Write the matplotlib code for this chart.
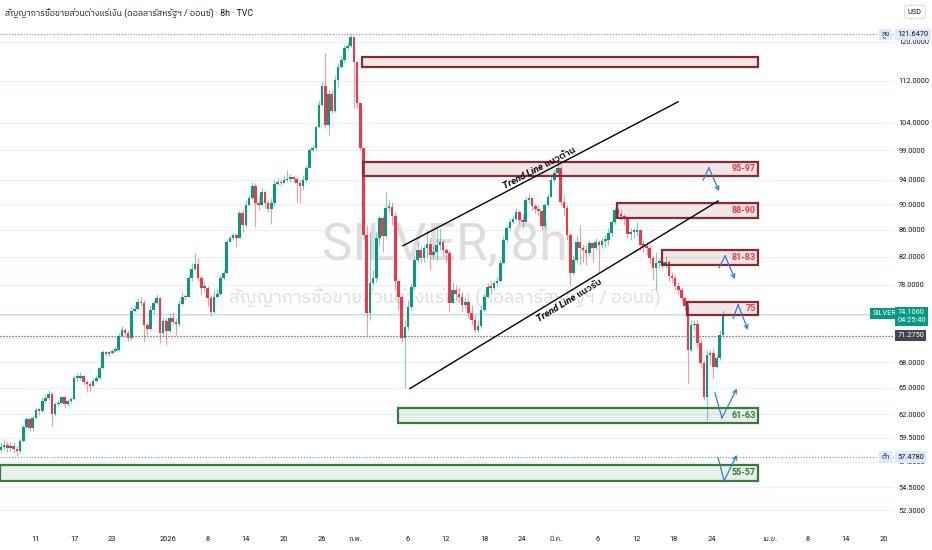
import numpy as np
import matplotlib
matplotlib.use("Agg")
import matplotlib.pyplot as plt
from matplotlib import font_manager, ft2font
from matplotlib.patches import Rectangle
from matplotlib.ticker import NullLocator, NullFormatter

# ---- values (TVC silver, 8h candles) ----
first_open = 58.2
closes = [
    58.5, 58.7, 58.4, 58.6, 58.3, 58.1, 59.1, 60.6, 61.5, 60.5,
    61.6, 62.5, 62.4, 63.5, 63.8, 64.3, 62.0, 63.1, 63.3, 63.9,
    63.1, 63.5, 63.7, 66.1, 66.1, 66.4, 65.7, 65.4, 65.2, 65.8,
    66.1, 67.3, 69.2, 69.0, 69.1, 69.4, 69.5, 71.2, 72.0, 71.6,
    71.0, 74.5, 74.7, 75.6, 75.5, 72.6, 72.1, 74.6, 75.5, 76.2,
    71.6, 73.1, 71.9, 73.5, 73.0, 72.8, 75.4, 76.4, 76.3, 78.9,
    80.2, 81.0, 79.0, 77.6, 77.6, 76.2, 74.3, 76.4, 76.8, 79.0,
    79.7, 84.2, 84.8, 85.2, 84.8, 88.6, 86.8, 89.9, 91.0, 92.9,
    90.1, 89.9, 92.0, 90.2, 89.2, 90.2, 93.3, 93.6, 93.4, 93.9,
    94.1, 94.2, 94.1, 93.4, 92.9, 93.9, 95.9, 99.1, 99.4, 103.2,
    107.3, 111.0, 103.5, 109.4, 106.1, 112.2, 114.8, 116.2, 118.7, 119.1,
    121.0, 115.8, 107.7, 99.4, 85.2, 74.2, 78.3, 79.0, 84.8, 87.8,
    85.1, 89.4, 89.6, 88.1, 78.6, 76.3, 71.0, 72.4, 75.0, 77.7,
    81.5, 83.0, 81.8, 83.3, 83.9, 82.3, 82.7, 83.7, 84.2, 83.0,
    82.5, 75.5, 77.3, 76.8, 76.4, 75.3, 75.6, 74.2, 73.3, 72.0,
    72.5, 74.6, 76.3, 77.7, 77.6, 78.3, 78.6, 81.1, 84.5, 86.3,
    87.2, 87.7, 88.8, 87.5, 87.2, 90.7, 91.0, 89.7, 89.2, 88.9,
    86.6, 89.9, 91.2, 93.9, 95.1, 95.9, 90.4, 89.4, 85.2, 79.7,
    81.5, 84.2, 83.3, 83.0, 82.5, 84.0, 83.3, 84.2, 83.7, 84.3,
    84.5, 85.5, 87.2, 89.1, 88.5, 88.1, 87.7, 85.4, 85.7, 85.7,
    86.0, 83.7, 83.6, 83.3, 81.8, 80.4, 81.1, 81.2, 80.9, 81.2,
    79.2, 79.0, 77.9, 77.3, 76.2, 75.1, 69.5, 72.6, 72.8, 70.4,
    67.9, 63.9, 68.9, 69.1, 67.4, 68.5, 71.4, 74.1,
]
highs = [
    59.0, 59.3, 59.1, 59.0, 58.9, 58.6, 59.3, 60.8, 61.7, 61.6,
    61.9, 62.8, 62.7, 63.9, 64.3, 64.7, 64.5, 63.4, 63.6, 64.1,
    64.0, 63.7, 63.9, 66.5, 66.7, 66.8, 66.5, 65.9, 65.7, 66.1,
    66.5, 67.6, 69.5, 69.4, 69.4, 69.6, 69.9, 71.6, 72.5, 72.3,
    72.0, 75.0, 75.3, 76.2, 76.3, 75.9, 73.0, 75.3, 75.9, 76.8,
    76.4, 73.7, 73.5, 74.1, 74.3, 73.5, 75.9, 77.0, 76.7, 79.4,
    81.1, 82.5, 81.8, 79.4, 78.4, 77.9, 76.6, 77.3, 77.4, 79.4,
    80.1, 84.6, 85.2, 85.7, 85.5, 89.1, 89.1, 90.7, 91.5, 93.6,
    93.4, 91.3, 92.6, 92.3, 90.7, 91.0, 93.9, 94.2, 94.1, 94.6,
    95.6, 94.9, 94.6, 94.2, 93.9, 94.7, 96.4, 99.4, 99.9, 103.5,
    108.3, 111.8, 117.7, 110.2, 110.2, 113.0, 115.6, 117.0, 119.3, 119.9,
    121.6, 121.0, 115.8, 107.7, 99.4, 86.8, 85.7, 80.1, 85.7, 88.3,
    88.2, 92.0, 90.7, 90.4, 88.8, 78.4, 76.6, 73.3, 75.9, 78.3,
    82.3, 84.2, 83.6, 83.7, 86.0, 84.8, 83.7, 86.4, 86.3, 84.5,
    83.3, 83.0, 78.4, 78.0, 77.7, 77.0, 76.3, 75.9, 75.3, 73.9,
    73.3, 75.3, 76.8, 78.3, 78.7, 78.7, 79.1, 81.5, 85.1, 86.8,
    87.8, 88.3, 89.4, 89.1, 88.5, 91.2, 91.6, 90.9, 90.1, 89.9,
    89.1, 90.2, 91.6, 94.6, 95.6, 96.8, 96.4, 91.5, 89.9, 85.5,
    82.3, 85.2, 86.8, 83.9, 83.7, 84.5, 84.0, 84.8, 84.5, 84.9,
    85.2, 86.3, 87.5, 89.6, 89.4, 89.1, 88.5, 87.8, 86.3, 86.3,
    87.2, 86.0, 84.5, 84.2, 83.7, 82.3, 82.7, 81.8, 81.8, 82.1,
    81.5, 79.8, 79.4, 78.4, 77.6, 76.3, 75.9, 73.3, 73.3, 73.3,
    70.7, 68.3, 69.5, 69.5, 69.7, 69.0, 72.0, 74.6,
]
lows = [
    58.0, 58.2, 58.0, 58.1, 57.9, 57.6, 57.9, 59.0, 60.5, 60.2,
    60.2, 61.5, 61.9, 62.3, 63.3, 63.6, 60.7, 61.8, 62.9, 63.1,
    62.7, 62.9, 63.3, 63.6, 65.8, 65.9, 65.3, 64.5, 64.6, 65.2,
    65.7, 66.0, 67.2, 68.8, 68.8, 69.0, 69.2, 69.4, 71.1, 71.2,
    70.6, 70.7, 74.3, 74.6, 75.1, 70.5, 71.4, 71.9, 74.1, 75.4,
    70.4, 71.4, 70.1, 71.8, 72.7, 71.4, 72.5, 75.3, 75.9, 76.4,
    78.6, 80.1, 78.6, 76.6, 77.0, 75.1, 73.8, 74.2, 76.3, 76.6,
    78.7, 80.2, 84.1, 84.5, 83.4, 84.8, 85.7, 86.4, 89.7, 90.9,
    86.4, 89.1, 89.7, 89.4, 88.8, 86.9, 89.9, 93.1, 93.1, 93.4,
    93.6, 93.6, 93.6, 90.4, 90.2, 92.3, 93.6, 95.9, 98.7, 99.1,
    103.0, 107.1, 103.0, 101.7, 105.8, 105.9, 110.6, 114.6, 115.8, 118.3,
    118.9, 106.7, 106.7, 99.1, 84.5, 71.4, 73.3, 78.0, 78.4, 83.7,
    82.7, 84.8, 88.8, 86.8, 77.3, 74.6, 70.5, 65.0, 72.0, 74.6,
    77.3, 81.2, 81.2, 81.2, 81.8, 80.1, 81.8, 81.5, 83.0, 82.1,
    81.2, 74.3, 75.9, 75.9, 75.6, 74.3, 74.8, 73.5, 72.6, 71.8,
    71.8, 72.3, 74.3, 76.2, 76.8, 77.3, 77.9, 78.4, 80.9, 84.2,
    86.0, 86.9, 87.5, 86.9, 86.3, 87.2, 90.1, 89.1, 88.6, 88.1,
    86.0, 86.3, 89.7, 91.3, 93.6, 94.6, 89.9, 88.3, 84.5, 78.0,
    79.4, 81.2, 80.8, 81.2, 80.8, 82.1, 81.2, 83.0, 79.7, 83.3,
    83.3, 83.7, 85.1, 86.9, 88.0, 87.5, 86.8, 84.8, 84.5, 84.8,
    85.1, 83.0, 82.7, 82.3, 80.9, 78.7, 77.3, 80.4, 80.4, 80.4,
    78.6, 78.3, 77.3, 76.8, 75.6, 74.6, 65.5, 69.2, 72.0, 69.7,
    67.3, 63.6, 61.4, 67.7, 66.1, 67.3, 68.3, 71.2,
]

price_ticks = [120, 112, 104, 99, 94, 90, 86, 82, 78, 74, 71, 68, 65, 62, 59.5, 57, 54.5, 52.3]
hidden_ticks = [74, 71]  # covered by the last-price / prev-close tags

date_pos = [10.7, 23.0, 34.9, 52.5, 65.1, 77.0, 89.0, 100.9, 111.6, 128.0, 139.9,
            151.9, 163.8, 174.5, 187.7, 199.7, 211.6, 223.6, 241.8, 253.8, 265.7, 277.7]
date_labels = ["11", "17", "23", "2026", "8", "14", "20", "26", "ก.พ.", "6", "12",
               "18", "24", "มี.ค.", "6", "12", "18", "24", "เม.ย.", "8", "14", "20"]

# drawn zones
zone_start = [113.5, 113.8, 193.7, 207.9, 215.7, 124.8, -0.3]
zone_end = 238.1
zone_low = [114.8, 94.6, 87.8, 80.8, 73.9, 61.1, 55.1]
zone_high = [116.8, 97.0, 90.1, 83.0, 75.7, 62.7, 56.7]
zone_labels = ["", "95-97", "88-90", "81-83", "75", "61-63", "55-57"]
zone_kind = ["res", "res", "res", "res", "res", "sup", "sup"]

upper_x, upper_y = [126.4, 212.9], [83.6, 107.9]
lower_x, lower_y = [128.6, 225.5], [64.9, 90.5]

arrow_paths = [
    [(220.8, 93.9), (222.6, 96.0), (225.8, 92.1)],
    [(225.8, 80.4), (227.7, 82.1), (230.8, 78.8)],
    [(230.2, 73.5), (231.8, 75.3), (234.9, 72.0)],
    [(224.5, 64.4), (226.7, 61.6), (231.4, 64.9)],
    [(225.5, 57.4), (227.4, 55.1), (231.4, 57.7)],
]

last_price = 74.106
prev_close = 71.275
high_price = 121.647
low_price = 57.478

title = "สัญญาการซื้อขายส่วนต่างแร่เงิน (ดอลลาร์สหรัฐฯ / ออนซ์) · 8h · TVC"
subtitle = "สัญญาการซื้อขายส่วนต่างแร่เงิน (ดอลลาร์สหรัฐฯ / ออนซ์)"

GREEN = "#089981"
RED = "#f23645"
TXT = "#131722"


def thai_fonts():
    found = []
    for f in font_manager.fontManager.ttflist:
        try:
            if 0x0E2A in ft2font.FT2Font(f.fname).get_charmap():
                found.append(f.name)
        except Exception:
            pass
    found.sort(key=lambda n: ("Thai" not in n, "Sans" not in n))
    return found


th = thai_fonts()
LAT = ["Roboto", "DejaVu Sans"]
MIX = ["Roboto"] + th[:1] + ["DejaVu Sans"]
plt.rcParams["font.family"] = MIX

fig = plt.figure(figsize=(9.32, 5.5), dpi=100)
ax = fig.add_axes([0, 23 / 550, 894 / 932, 527 / 550])
ax.set_yscale("log")
ax.set_xlim(-0.3, 280.8)
ax.set_ylim(50.77, 129.25)
for s in ax.spines.values():
    s.set_visible(False)

ax.set_yticks(price_ticks)
ax.set_yticklabels(["" if t in hidden_ticks else f"{t:.4f}" for t in price_ticks])
ax.yaxis.set_minor_locator(NullLocator())
ax.yaxis.set_minor_formatter(NullFormatter())
ax.yaxis.tick_right()
ax.tick_params(axis="y", length=0, pad=3, labelsize=5.3, labelcolor=TXT)
ax.set_xticks([])
ax.grid(axis="y", color="#edf0f7", lw=1)
ax.set_axisbelow(True)

# watermark
ax.text(0.498, 0.535, "SILVER, 8h", transform=ax.transAxes, ha="center", va="center",
        fontsize=37, color="#dcdde0", family=["Liberation Sans Narrow"] + LAT, zorder=1)
ax.text(0.498, 0.436, subtitle, transform=ax.transAxes, ha="center", va="center",
        fontsize=13, color="#dcdde0", zorder=1)

# reference lines
ax.axhline(high_price, color="#8a8d96", lw=0.8, ls=(0, (1, 1.6)), zorder=2)
ax.axhline(low_price, color="#8a8d96", lw=0.8, ls=(0, (1, 1.6)), zorder=2)
ax.axhline(prev_close, color="#55585f", lw=0.9, ls=(0, (1, 1.4)), zorder=2)
ax.axhline(last_price, color=GREEN, lw=0.8, alpha=0.25, zorder=2)

# candles
o = np.array([first_open] + closes[:-1])
c = np.array(closes)
h = np.maximum(np.maximum(np.array(highs), o), c)
l = np.minimum(np.minimum(np.array(lows), o), c)
x = np.arange(len(c))
col = np.where(c >= o, GREEN, RED)
ax.vlines(x, l, h, colors=col, lw=0.8, alpha=0.5, zorder=3)
bot = np.minimum(o, c)
top = np.maximum(np.maximum(o, c), bot * 1.003)
ax.bar(x, top - bot, bottom=bot, width=0.82, color=col, lw=0, zorder=4)

# zones
for x0, lo, hi, lab, kind in zip(zone_start, zone_low, zone_high, zone_labels, zone_kind):
    if kind == "res":
        fc, ec, tc = (0.55, 0.12, 0.14, 0.11), "#8b2b31", RED
    else:
        fc, ec, tc = (0.2, 0.5, 0.22, 0.11), "#3a7a3c", "#2e7d32"
    ax.add_patch(Rectangle((x0, lo), zone_end - x0, hi - lo, facecolor=fc,
                           edgecolor=ec, lw=1.6, zorder=5))
    if lab:
        ax.text(zone_end - 0.8, np.sqrt(lo * hi), lab, ha="right", va="center",
                fontsize=6.5, fontweight="bold", color=tc, zorder=6)

# trend lines
ax.plot(upper_x, upper_y, color="black", lw=1.0, zorder=6)
ax.plot(lower_x, lower_y, color="black", lw=1.0, zorder=6)


def line_angle(xs, ys):
    p = ax.transData.transform(list(zip(xs, ys)))
    return np.degrees(np.arctan2(p[1, 1] - p[0, 1], p[1, 0] - p[0, 0]))


ax.text(169.2, 96.0, "Trend Line แนวต้าน", rotation=line_angle(upper_x, upper_y),
        rotation_mode="anchor", ha="center", va="center", fontsize=6.8, style="italic",
        fontweight="semibold", color="black", zorder=7)
ax.text(178.9, 75.8, "Trend Line แนวรับ", rotation=line_angle(lower_x, lower_y),
        rotation_mode="anchor", ha="center", va="center", fontsize=6.8, style="italic",
        fontweight="semibold", color="black", zorder=7)

# blue scenario arrows
for path in arrow_paths:
    ax.plot([p[0] for p in path[:2]], [p[1] for p in path[:2]], color="#2f7fd0", lw=0.9, zorder=7)
    ax.annotate("", xy=path[2], xytext=path[1],
                arrowprops=dict(arrowstyle="->", color="#2f7fd0", lw=0.9,
                                shrinkA=0, shrinkB=0, mutation_scale=7), zorder=7)

# date axis
xt = ax.get_xaxis_transform()
for pos, lab in zip(date_pos, date_labels):
    ax.text(pos, -0.023, lab, transform=xt, ha="center", va="center",
            fontsize=5.3, color=TXT, clip_on=False)

# price-scale labels
yt = ax.get_yaxis_transform()
xl = 1 + 3.5 / 894
box = dict(boxstyle="square,pad=0.28", lw=0)
ax.text(xl, high_price, "121.6470", transform=yt, ha="left", va="center", fontsize=5.3,
        color=TXT, bbox=dict(box, fc="#dde9fb"), clip_on=False, zorder=8)
ax.text(xl - 8 / 894, high_price, "สูง", transform=yt, ha="right", va="center", fontsize=5.3,
        color=TXT, bbox=dict(box, fc="#dde9fb"), clip_on=False, zorder=8)
ax.text(xl, low_price, "57.4780", transform=yt, ha="left", va="center", fontsize=5.3,
        color=TXT, bbox=dict(box, fc="#dde9fb"), clip_on=False, zorder=8)
ax.text(xl - 8 / 894, low_price, "ต่ำ", transform=yt, ha="right", va="center", fontsize=5.3,
        color=TXT, bbox=dict(box, fc="#dde9fb"), clip_on=False, zorder=8)
ax.text(xl, prev_close, "71.2750", transform=yt, ha="left", va="center", fontsize=5.3,
        color="white", bbox=dict(box, fc="#434651"), clip_on=False, zorder=8)
ax.text(xl - 1.5 / 894, last_price, "SILVER", transform=yt, ha="right", va="center",
        fontsize=5.3, color="white", bbox=dict(box, fc=GREEN), clip_on=False, zorder=8)
ax.annotate("74.1060\n04:25:40", xy=(xl, last_price), xycoords=yt, xytext=(0, 3.5),
            textcoords="offset points", ha="left", va="top", fontsize=5.3, color="white",
            linespacing=1.25, bbox=dict(box, fc=GREEN), annotation_clip=False, zorder=8)

# header
fig.text(5 / 932, 1 - 13 / 550, title, ha="left", va="center", fontsize=6.3, color=TXT)
fig.text(915 / 932, 1 - 12 / 550, "USD", ha="center", va="center", fontsize=5.3, color=TXT,
         bbox=dict(boxstyle="round,pad=0.45", fc="white", ec="#d1d4dc", lw=0.6))

fig.savefig("out.png", dpi=100, facecolor="white")
